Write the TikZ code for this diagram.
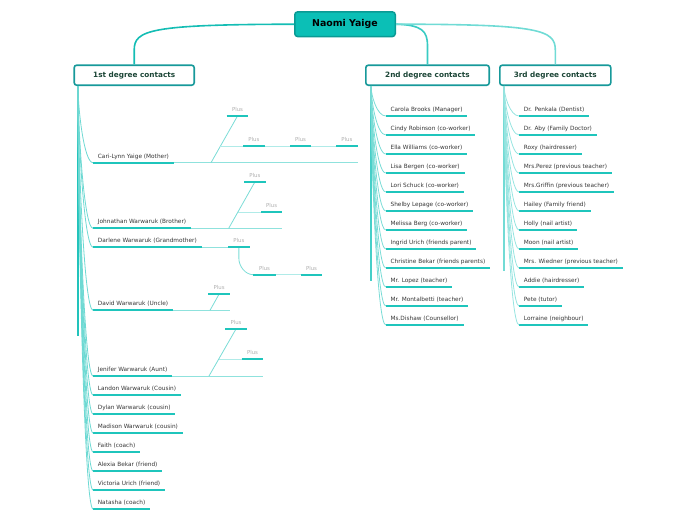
\documentclass[tikz,border=0pt]{standalone}
\usepackage{fontspec}
\usetikzlibrary{calc}
\newfontfamily\dv{DejaVu Sans}
\definecolor{rootfill}{HTML}{0BBFB6}
\definecolor{rootdraw}{HTML}{0A9A94}
\definecolor{hdrdraw}{HTML}{17999A}
\definecolor{hdrtext}{HTML}{1B4536}
\definecolor{rcA}{HTML}{14BDB4}
\definecolor{rcB}{HTML}{38CBC3}
\definecolor{rcC}{HTML}{70DBD5}
\definecolor{trA}{HTML}{22C3BB}
\definecolor{trB}{HTML}{45CFC8}
\definecolor{trC}{HTML}{72DBD5}
\definecolor{connA}{HTML}{6ED9D3}
\definecolor{connB}{HTML}{7ADCD6}
\definecolor{connC}{HTML}{96E4E0}
\definecolor{ulc}{HTML}{1FC5BC}
\definecolor{extc}{HTML}{8FE2DD}
\definecolor{chainc}{HTML}{B0EBE8}
\definecolor{plusc}{HTML}{AFAFAF}
\definecolor{leaftext}{HTML}{353535}
\tikzset{
  rootbox/.style={draw=rootdraw, fill=rootfill, line width=1.5pt, rounded corners=3pt,
    minimum width=100.5pt, minimum height=24.8pt, inner sep=0pt,
    font=\dv\bfseries\fontsize{9.4}{11}\selectfont, text=black},
  hdr/.style={draw=hdrdraw, fill=white, line width=1.6pt, rounded corners=2.5pt,
    minimum height=20pt, inner sep=0pt,
    font=\dv\bfseries\fontsize{7.3}{9}\selectfont, text=hdrtext},
  leaf/.style={anchor=base west, inner xsep=4.7pt, inner ysep=0pt,
    font=\dv\fontsize{5.8}{7}\selectfont, text=leaftext},
  plustxt/.style={anchor=base, inner sep=0pt,
    font=\dv\fontsize{5.4}{6.5}\selectfont, text=plusc},
  ul/.style={draw=ulc, line width=1.8pt},
  rootconn/.style={line width=1.6pt},
  trunk/.style={line width=1.8pt},
  connL/.style={draw=connA, line width=0.8pt},
  connM/.style={draw=connB, line width=0.8pt},
  connR/.style={draw=connC, line width=0.8pt},
  ext/.style={draw=extc, line width=0.9pt},
  diag/.style={draw=connB, line width=0.8pt},
  chain/.style={draw=chainc, line width=1pt},
}
% plus node: name, x-start, x-end, y (underline drawn later)
\newcommand\mkplus[4]{%
  \coordinate (#1-l) at (#2,#4);
  \coordinate (#1-r) at (#3,#4);
  \node[plustxt] (#1) at ({(#2+#3)/2},{#4-4.5}) {Plus};}
% leaf node: name, x, y, text
\newcommand\mkleaf[4]{%
  \coordinate (#1-l) at (#2,#3);
  \node[leaf] (#1) at (#2,{#3-4.5}) {#4};
  \coordinate (#1-r) at (#1.east |- #1-l);
  \draw[ul] (#1-l) -- (#1-r);}
\begin{document}
\begin{tikzpicture}[x=1pt,y=-1pt]
\useasboundingbox (0,0) rectangle (696,520);

\node[rootbox] (root) at (345,24.2) {Naomi Yaige};
\node[hdr, minimum width=120pt] (b1) at (134.2,75.2) {1st degree contacts};
\node[hdr, minimum width=123.4pt] (b2) at (427.5,75.2) {2nd degree contacts};
\node[hdr, minimum width=111pt] (b3) at (555.3,75.2) {3rd degree contacts};

\draw[rootconn, draw=rcA] (root.west) .. controls (150,24.5) and (134.2,30) .. (134.2,50) -- (b1.north);
\draw[rootconn, draw=rcB] (root.east) .. controls (422,25) and (427.5,31) .. (427.5,46) -- (b2.north);
\draw[rootconn, draw=rcC] (root.east) .. controls (540,24.2) and (555.3,30) .. (555.3,50) -- (b3.north);

\coordinate (t1) at (b1.south west -| 78,0);
\coordinate (t2) at (b2.south west -| 371,0);
\coordinate (t3) at (b3.south west -| 504,0);
\coordinate (t1e) at ($(t1)+(0,250)$);
\coordinate (t2e) at ($(t2)+(0,195)$);
\coordinate (t3e) at ($(t3)+(0,185)$);
\draw[trunk, draw=trA] (t1) -- (t1e);
\draw[trunk, draw=trB, line width=1.6pt] (t2) -- (t2e);
\draw[trunk, draw=trC, line width=1.4pt] (t3) -- (t3e);

% first degree
\foreach \n/\y/\t in {
  c1/162.7/Cari-Lynn Yaige (Mother),
  c2/228.3/Johnathan Warwaruk (Brother),
  c3/247.3/Darlene Warwaruk (Grandmother),
  c4/310.3/David Warwaruk (Uncle),
  c5/376/Jenifer Warwaruk (Aunt),
  c6/395/Landon Warwaruk (Cousin),
  c7/414/Dylan Warwaruk (cousin),
  c8/433/Madison Warwaruk (cousin),
  c9/452/Faith (coach),
  c10/471/Alexia Bekar (friend),
  c11/490/Victoria Urich (friend),
  c12/509/Natasha (coach)}{
  \mkleaf{\n}{93}{\y}{\t}
  \draw[connL] (t1) .. controls ($(t1)!0.3!(t1 |- \n-l)$) and ($(t1 |- \n-l)!0.4!(\n-l)$) .. (\n-l);
}

% second degree
\foreach \n/\y/\t in {
  m1/116/Carola Brooks (Manager),
  m2/135/Cindy Robinson (co-worker),
  m3/154/Ella Williams (co-worker),
  m4/173/Lisa Bergen (co-worker),
  m5/192/Lori Schuck (co-worker),
  m6/211/Shelby Lepage (co-worker),
  m7/230/Melissa Berg (co-worker),
  m8/249/Ingrid Urich (friends parent),
  m9/268/Christine Bekar (friends parents),
  m10/287/Mr. Lopez (teacher),
  m11/306/Mr. Montalbetti (teacher),
  m12/325/Ms.Dishaw (Counsellor)}{
  \mkleaf{\n}{385.7}{\y}{\t}
  \draw[connM] (t2) .. controls ($(t2)!0.3!(t2 |- \n-l)$) and ($(t2 |- \n-l)!0.4!(\n-l)$) .. (\n-l);
}

% third degree
\foreach \n/\y/\t in {
  r1/116/Dr. Penkala (Dentist),
  r2/135/Dr. Aby (Family Doctor),
  r3/154/Roxy (hairdresser),
  r4/173/Mrs.Perez (previous teacher),
  r5/192/Mrs.Griffin (previous teacher),
  r6/211/Hailey (Family friend),
  r7/230/Holly (nail artist),
  r8/249/Moon (nail artist),
  r9/268/Mrs. Wiedner (previous teacher),
  r10/287/Addie (hairdresser),
  r11/306/Pete (tutor),
  r12/325/Lorraine (neighbour)}{
  \mkleaf{\n}{519}{\y}{\t}
  \draw[connR] (t3) .. controls ($(t3)!0.3!(t3 |- \n-l)$) and ($(t3 |- \n-l)!0.4!(\n-l)$) .. (\n-l);
}

% Plus nodes
\mkplus{c1p1}{226.7}{248.3}{116}
\mkplus{c1p2}{243}{264.7}{146}
\mkplus{c1p3}{290}{311}{146}
\mkplus{c1p4}{336}{357.7}{146}
\mkplus{c2p1}{244}{265.7}{182}
\mkplus{c2p2}{261}{282.3}{212}
\mkplus{c3p1}{228}{249.7}{247.3}
\mkplus{c3p2}{253.3}{275.7}{274.7}
\mkplus{c3p3}{300.7}{322.3}{274.7}
\mkplus{c4p1}{208.3}{230}{294}
\mkplus{c5p1}{225.3}{246.7}{329}
\mkplus{c5p2}{241.7}{263.3}{359}

% Cari-Lynn sub-branches
\coordinate (c1-e) at (357.7,162.7);
\coordinate (c1-b) at (211,162.7);
\coordinate (c1-m) at (220.3,146);
\draw[ext] (c1-r) -- (c1-e);
\draw[diag] (c1-b) -- (c1p1 |- c1p1-l);
\draw[chain] (c1-m) -- (c1p2-l);
\draw[chain] (c1p2-r) -- (c1p3-l);
\draw[chain] (c1p3-r) -- (c1p4-l);

% Johnathan sub-branches
\coordinate (c2-e) at (281.7,228.3);
\coordinate (c2-b) at (228.7,228.3);
\coordinate (c2-m) at (238.1,212);
\draw[ext] (c2-r) -- (c2-e);
\draw[diag] (c2-b) -- (c2p1 |- c2p1-l);
\draw[chain] (c2-m) -- (c2p2-l);

% Darlene sub-branches
\draw[ext] (c3-r) -- (c3p1-l);
\draw[diag] (c3p1 |- c3p1-l) -- ++(0,11) .. controls +(0,8) and +(-8,0) .. (c3p2-l);
\draw[chain] (c3p2-r) -- (c3p3-l);

% David sub-branch
\coordinate (c4-e) at (229.7,310.3);
\coordinate (c4-b) at (210,310.3);
\draw[ext] (c4-r) -- (c4-e);
\draw[diag] (c4-b) -- (c4p1 |- c4p1-l);

% Jenifer sub-branches
\coordinate (c5-e) at (262.7,376);
\coordinate (c5-b) at (209,376);
\coordinate (c5-m) at (218.7,359);
\draw[ext] (c5-r) -- (c5-e);
\draw[diag] (c5-b) -- (c5p1 |- c5p1-l);
\draw[chain] (c5-m) -- (c5p2-l);

% Plus underlines on top
\foreach \p in {c1p1,c1p2,c1p3,c1p4,c2p1,c2p2,c3p1,c3p2,c3p3,c4p1,c5p1,c5p2}
  \draw[ul] (\p-l) -- (\p-r);
\end{tikzpicture}
\end{document}
